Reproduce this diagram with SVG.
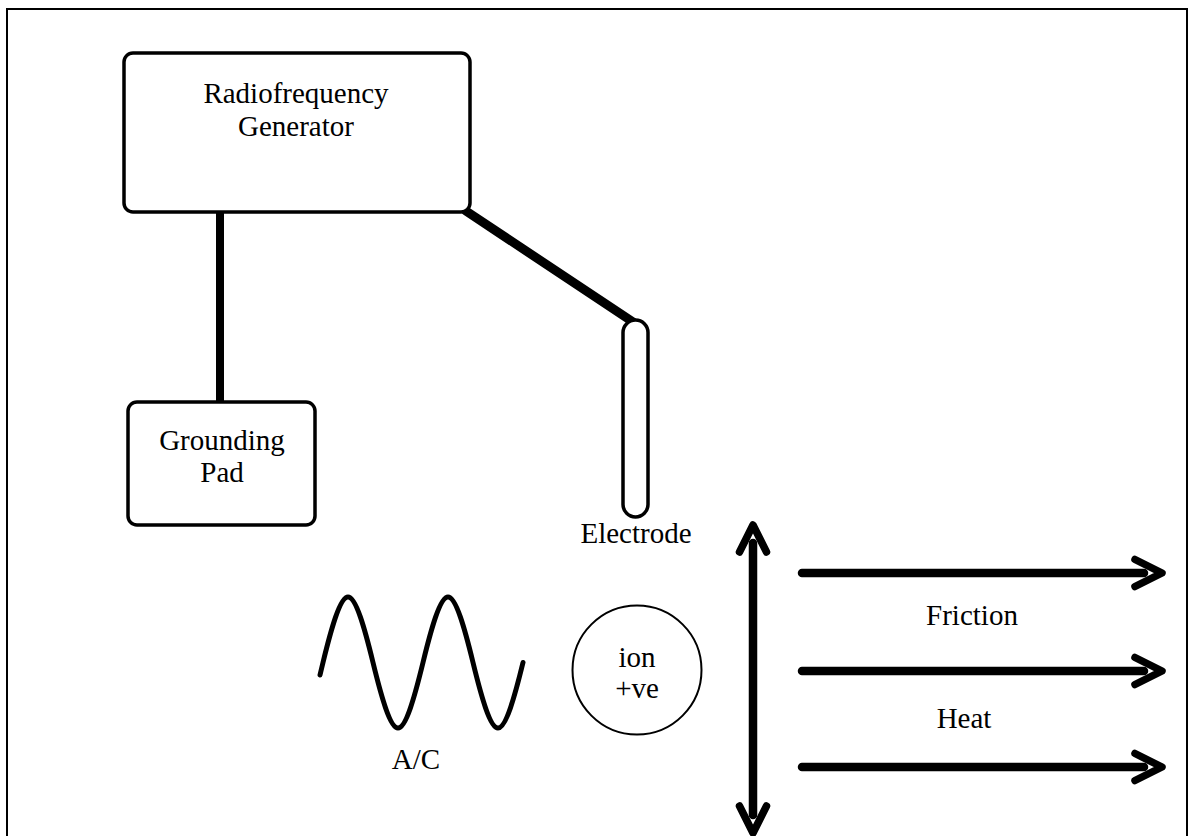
<svg xmlns="http://www.w3.org/2000/svg" width="1190" height="836" viewBox="0 0 1190 836">
  <style>
    .lbl { font-family: "Liberation Serif", "Times New Roman", serif; font-size: 29px; fill: #000; text-anchor: middle; }
    .box { fill: #fff; stroke: #000; stroke-width: 3.5; }
    .wire { stroke: #000; stroke-linecap: round; fill: none; }
    .arrow { stroke: #000; stroke-width: 8.5; stroke-linecap: round; fill: none; }
  </style>
  <defs>
    <marker id="chev" viewBox="-16 -20 42 40" markerUnits="userSpaceOnUse" markerWidth="42" markerHeight="40" refX="0" refY="0" orient="auto-start-reverse">
      <path d="M -9 -13.5 L 18 0 L -9 13.5" fill="none" stroke="#000" stroke-width="7.5" stroke-linecap="round" stroke-linejoin="round"/>
    </marker>
  </defs>
  <rect x="0" y="0" width="1190" height="836" fill="#fff"/>
  <rect id="frame" x="7" y="9" width="1180" height="900" fill="none" stroke="#000" stroke-width="2"/>

  <g id="connectors">
    <line class="wire" x1="220" y1="212" x2="220" y2="402" stroke-width="8"/>
    <line class="wire" x1="466" y1="211" x2="633" y2="322" stroke-width="9"/>
  </g>

  <g id="rf-generator">
    <rect class="box" x="124" y="53" width="346" height="159" rx="9"/>
    <text class="lbl" x="296" y="103">Radiofrequency</text>
    <text class="lbl" x="296" y="136">Generator</text>
  </g>

  <g id="grounding-pad">
    <rect class="box" x="128" y="402" width="187" height="123" rx="9"/>
    <text class="lbl" x="222" y="450">Grounding</text>
    <text class="lbl" x="222" y="482">Pad</text>
  </g>

  <g id="electrode">
    <rect class="box" x="623" y="320" width="25" height="197" rx="12.5" stroke-width="3"/>
    <text class="lbl" x="636" y="543">Electrode</text>
  </g>

  <g id="ac">
    <path d="M 320 675 L 323 662.5 C 331.15 629 340.05 597 348 597 C 355.95 597 364.85 629 373 662.5 C 381.15 696 390.05 728 398 728 C 405.95 728 414.85 696 423 662.5 C 431.15 629 440.05 597 448 597 C 455.95 597 464.85 629 473 662.5 C 481.15 696 490.05 728 498 728 C 505.95 728 514.85 696 523 662.5" fill="none" stroke="#000" stroke-width="5" stroke-linecap="round"/>
    <text class="lbl" x="416" y="769">A/C</text>
  </g>

  <g id="ion">
    <circle cx="637" cy="670" r="64.5" fill="#fff" stroke="#000" stroke-width="2"/>
    <text class="lbl" x="637" y="667">ion</text>
    <text class="lbl" x="637" y="698">+ve</text>
  </g>

  <g id="arrows">
    <line class="arrow" x1="753" y1="543" x2="753" y2="815" marker-start="url(#chev)" marker-end="url(#chev)"/>
    <line class="arrow" x1="802" y1="573" x2="1144" y2="573" marker-end="url(#chev)"/>
    <line class="arrow" x1="802" y1="671" x2="1144" y2="671" marker-end="url(#chev)"/>
    <line class="arrow" x1="802" y1="767" x2="1144" y2="767" marker-end="url(#chev)"/>
  </g>

  <g id="labels">
    <text class="lbl" x="972" y="625">Friction</text>
    <text class="lbl" x="964" y="728">Heat</text>
  </g>
</svg>
